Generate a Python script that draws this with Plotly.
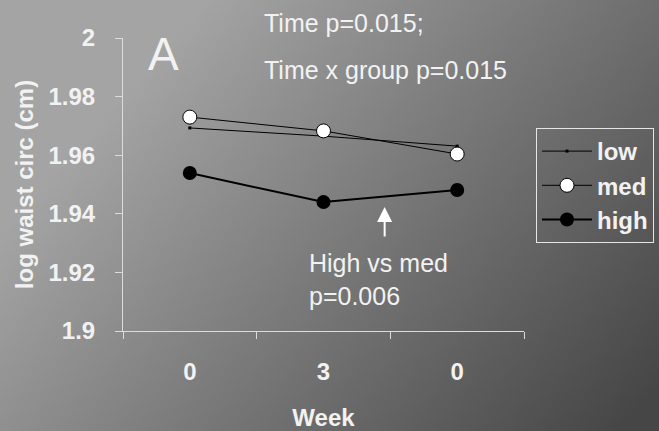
import base64
import plotly.graph_objects as go

# Waist circumference (log scale) by group over the study weeks
week_pos = [0, 1, 2]
week_labels = ["0", "3", "0"]
low = [1.9693, 1.9665, 1.9631]
med = [1.9730, 1.9683, 1.9604]
high = [1.9539, 1.9440, 1.9481]

FONT = "Liberation Sans, Arial, sans-serif"
W, H = 659, 431
ML, MR, MT, MB = 123, 135, 38, 100

# Grey slide-style background as an inline SVG gradient
svg = f"""<svg xmlns='http://www.w3.org/2000/svg' width='{W}' height='{H}'>
<defs><linearGradient id='g' gradientUnits='userSpaceOnUse' x1='170' y1='40' x2='620' y2='431'>
<stop offset='0' stop-color='#a4a4a4'/><stop offset='0.4' stop-color='#7e7e7e'/><stop offset='1' stop-color='#464646'/>
</linearGradient></defs><rect width='{W}' height='{H}' fill='url(#g)'/></svg>"""
bg_uri = "data:image/svg+xml;base64," + base64.b64encode(svg.encode()).decode()

pw, ph = W - ML - MR, H - MT - MB

fig = go.Figure()
fig.add_trace(go.Scatter(
    x=week_pos, y=low, name="low", mode="lines+markers",
    line=dict(color="black", width=1),
    marker=dict(symbol="square", size=3, color="black"),
))
fig.add_trace(go.Scatter(
    x=week_pos, y=med, name="med", mode="lines+markers",
    line=dict(color="black", width=1),
    marker=dict(symbol="circle", size=14, color="white", line=dict(color="black", width=1)),
))
fig.add_trace(go.Scatter(
    x=week_pos, y=high, name="high", mode="lines+markers",
    line=dict(color="black", width=2),
    marker=dict(symbol="circle", size=14, color="black"),
))

white = "#f2f2f2"
axis_col = "#dcdcdc"

fig.update_layout(
    width=W, height=H,
    margin=dict(l=ML, r=MR, t=MT, b=MB, autoexpand=False),
    paper_bgcolor="#8a8a8a",
    plot_bgcolor="rgba(0,0,0,0)",
    font=dict(family=FONT, color=white),
    images=[dict(
        source=bg_uri, xref="paper", yref="paper",
        x=-ML / pw, y=1 + MT / ph, sizex=W / pw, sizey=H / ph,
        xanchor="left", yanchor="top", sizing="stretch", layer="below",
    )],
    xaxis=dict(
        range=[-0.5, 2.5], tickvals=week_pos, ticktext=week_labels,
        ticks="", showgrid=False, zeroline=False,
        showline=True, linecolor=axis_col, linewidth=1,
        tickfont=dict(size=24, family=FONT, color=white, weight="bold"),
        ticklabelstandoff=19,
        minor=dict(tickvals=[-0.5, 0.5, 1.5, 2.5], ticks="outside", ticklen=7,
                   tickcolor=axis_col, tickwidth=1, showgrid=False),
        title=dict(text="<b>Week</b>", font=dict(size=24, family=FONT, color=white), standoff=26),
        automargin=False,
    ),
    yaxis=dict(
        range=[1.9, 2.0], tickvals=[1.9, 1.92, 1.94, 1.96, 1.98, 2.0],
        ticktext=["1.9", "1.92", "1.94", "1.96", "1.98", "2"],
        ticks="outside", ticklen=7, tickcolor=axis_col, tickwidth=1,
        showgrid=False, zeroline=False,
        showline=True, linecolor=axis_col, linewidth=1,
        tickfont=dict(size=24, family=FONT, color=white, weight="bold"),
        ticklabelstandoff=15,
        title=dict(text="<b>log waist circ (cm)</b>", font=dict(size=24, family=FONT, color=white), standoff=8),
        automargin=False,
    ),
    legend=dict(
        x=(536 - ML) / pw, xanchor="left", y=(H - MB - 128) / ph, yanchor="top",
        bgcolor="rgba(0,0,0,0)", bordercolor="#e6e6e6", borderwidth=1,
        font=dict(size=24, family=FONT, color=white, weight="bold"),
        itemwidth=50, tracegroupgap=0,
    ),
    showlegend=True,
)

# Panel letter and statistics text
fig.add_annotation(text="A", xref="paper", yref="paper", x=(146 - ML) / pw, y=(H - MB - 54) / ph,
                   xanchor="left", yanchor="middle", showarrow=False,
                   font=dict(size=46, family=FONT, color=white))
fig.add_annotation(text="Time p=0.015;", xref="paper", yref="paper", x=(262 - ML) / pw, y=(H - MB - 23) / ph,
                   xanchor="left", yanchor="middle", showarrow=False,
                   font=dict(size=25, family=FONT, color=white))
fig.add_annotation(text="Time x group p=0.015", xref="paper", yref="paper", x=(262 - ML) / pw, y=(H - MB - 70) / ph,
                   xanchor="left", yanchor="middle", showarrow=False,
                   font=dict(size=25, family=FONT, color=white))
fig.add_annotation(text="High vs med<br>p=0.006", xref="paper", yref="paper", x=(307 - ML) / pw, y=(H - MB - 279) / ph,
                   xanchor="left", yanchor="middle", align="left", showarrow=False,
                   font=dict(size=25, family=FONT, color=white))
# Arrow pointing at the high-vs-med difference at the last week
fig.add_annotation(text="", x=1.4575, y=1.9 + (331 - 207) / 2930,
                   ax=0, ay=31, showarrow=True, arrowhead=2, arrowsize=1.5, arrowwidth=2,
                   arrowcolor="white")

fig.write_html("out.html")
